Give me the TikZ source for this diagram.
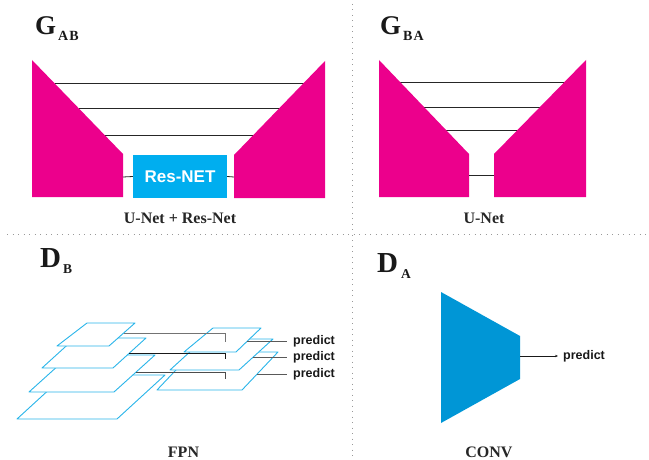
\documentclass[tikz,border=0pt]{standalone}
\usepackage{fontspec}
\setmainfont{Liberation Serif}
\newfontfamily\sansf{Liberation Sans}
\usetikzlibrary{arrows.meta}
\definecolor{pinkc}{HTML}{EC008C}
\definecolor{resc}{HTML}{00AEEF}
\definecolor{fpnc}{HTML}{29B5EA}
\definecolor{convc}{HTML}{0096D6}
\begin{document}
\begin{tikzpicture}[x=1pt,y=-1pt,
  skipline/.style={draw=black!85, line width=0.8pt},
  pinkshape/.style={fill=pinkc, draw=none},
  layer/.style={draw=fpnc, fill=white, line width=0.9pt, line join=round},
  lateral/.style={line width=1pt},
  predtext/.style={font=\sansf\bfseries\fontsize{12.5}{14}\selectfont, anchor=west, inner sep=0pt, text=black!90},
  caption/.style={font=\bfseries\fontsize{16}{18}\selectfont, anchor=base, inner sep=0pt, text=black!85},
  title/.style={font=\bfseries\fontsize{27}{29}\selectfont, anchor=base west, inner sep=0pt, text=black!90},
  dotline/.style={draw=gray!80, line width=0.8pt, dash pattern=on 0.8pt off 4.7pt},
  resbox/.style={fill=resc, draw=none, minimum width=94pt, minimum height=43pt, inner sep=0pt,
    text=white, font=\sansf\bfseries\fontsize{17}{19}\selectfont}
]
\useasboundingbox (0,0) rectangle (649,460);

% dotted separators
\coordinate (hd1) at (7,234); \coordinate (hd2) at (646,234);
\coordinate (vd1) at (352,4); \coordinate (vd2) at (352,460);
\draw[dotline] (hd1) -- (hd2);
\draw[dotline] (vd1) -- (vd2);

% ---------- G_AB ----------
\node[title] (gab) at (35,34.5) {G\kern2pt\raisebox{-6.5pt}{\fontsize{14}{14}\selectfont A\kern1pt B}};
\coordinate (ab1l) at (55,83);  \coordinate (ab1r) at (304,83);
\coordinate (ab2l) at (79,108); \coordinate (ab2r) at (280,108);
\coordinate (ab3l) at (105,135);\coordinate (ab3r) at (253,135);
\draw[skipline] (ab1l) -- (ab1r);
\draw[skipline] (ab2l) -- (ab2r);
\draw[skipline] (ab3l) -- (ab3r);
\fill[pinkshape] (32,60) -- (123,154) -- (123,197) -- (32,197) -- cycle;
\fill[pinkshape] (325,61) -- (234,155) -- (234,198) -- (325,198) -- cycle;
\node[resbox] (res) at (180,176.5) {Res-NET};
\coordinate (abencout) at (123,177);
\coordinate (abdecin) at (234,177);
\draw[skipline] (abencout) -- (res.west);
\draw[skipline] (res.east) -- (abdecin);
\node[caption] (capab) at (180,223) {U-Net + Res-Net};

% ---------- G_BA ----------
\node[title] (gba) at (380,34.5) {G\kern2pt\raisebox{-6.5pt}{\fontsize{14}{14}\selectfont B\kern1pt A}};
\coordinate (ba1l) at (400,82);  \coordinate (ba1r) at (565,82);
\coordinate (ba2l) at (424,107); \coordinate (ba2r) at (540,107);
\coordinate (ba3l) at (446,130); \coordinate (ba3r) at (518,130);
\draw[skipline] (ba1l) -- (ba1r);
\draw[skipline] (ba2l) -- (ba2r);
\draw[skipline] (ba3l) -- (ba3r);
\fill[pinkshape] (379,60) -- (469,154) -- (469,197) -- (379,197) -- cycle;
\fill[pinkshape] (586,60) -- (494,154) -- (494,197) -- (586,197) -- cycle;
\coordinate (bab1) at (469,175); \coordinate (bab2) at (494,175);
\draw[skipline] (bab1) -- (bab2);
\node[caption] (capba) at (484,223) {U-Net};

% ---------- D_B (FPN) ----------
\node[title, font=\bfseries\fontsize{29}{31}\selectfont] (db) at (40,267) {D\kern2pt\raisebox{-6pt}{\fontsize{13.5}{14}\selectfont B}};
% left pyramid (largest first)
\draw[layer] (17,419) -- (117,419) -- (165,375) -- (65,375) -- cycle;
\draw[layer] (29,392) -- (114,392) -- (155,355) -- (70,355) -- cycle;
\draw[layer] (42,368) -- (113,368) -- (146,338) -- (75,338) -- cycle;
\draw[layer] (57,346) -- (109,346) -- (135,323) -- (87,323) -- cycle;
% right pyramid
\draw[layer] (157,390) -- (242,390) -- (278,352) -- (193,352) -- cycle;
\draw[layer] (170,370) -- (239,370) -- (273,339) -- (204,339) -- cycle;
\draw[layer] (184,352) -- (236,352) -- (261,328) -- (213,328) -- cycle;
% lateral connections
\coordinate (l1s) at (124,333); \coordinate (l1e) at (225,333); \coordinate (l1t) at (225,342);
\coordinate (l2s) at (129,353); \coordinate (l2e) at (225,353); \coordinate (l2t) at (225,359);
\coordinate (l3s) at (136,372); \coordinate (l3e) at (225,372); \coordinate (l3t) at (225,379);
\draw[lateral, draw=black!55] (l1s) -- (l1e) -- (l1t);
\draw[lateral, draw=black!90] (l2s) -- (l2e) -- (l2t);
\draw[lateral, draw=black!70] (l3s) -- (l3e) -- (l3t);
% predictions
\node[predtext] (p1) at (293,341) {predict};
\node[predtext] (p2) at (293,357) {predict};
\node[predtext] (p3) at (293,374) {predict};
\coordinate (r1o) at (247,341);
\coordinate (r2o) at (253,357);
\coordinate (r3o) at (257,374);
\draw[lateral, draw=black!65, shorten >=6pt] (r1o) -- (p1.west);
\draw[lateral, draw=black!65, shorten >=6pt] (r2o) -- (p2.west);
\draw[lateral, draw=black!65, shorten >=6pt] (r3o) -- (p3.west);
\node[caption] (capfpn) at (183.5,457.5) {FPN};

% ---------- D_A (CONV) ----------
\node[title, font=\bfseries\fontsize{29}{31}\selectfont] (da) at (377,272) {D\kern3pt\raisebox{-6pt}{\fontsize{13.5}{14}\selectfont A}};
\fill[convc] (441,292) -- (520,336) -- (520,379) -- (441,423) -- cycle;
\coordinate (convout) at (520,356);
\node[predtext] (pa) at (563,356) {predict};
\draw[draw=black!90, line width=0.8pt, -{Stealth[length=3pt,width=2.4pt]}, shorten >=5pt] (convout) -- (pa.west);
\node[caption] (capconv) at (489,457) {CONV};
\end{tikzpicture}
\end{document}
